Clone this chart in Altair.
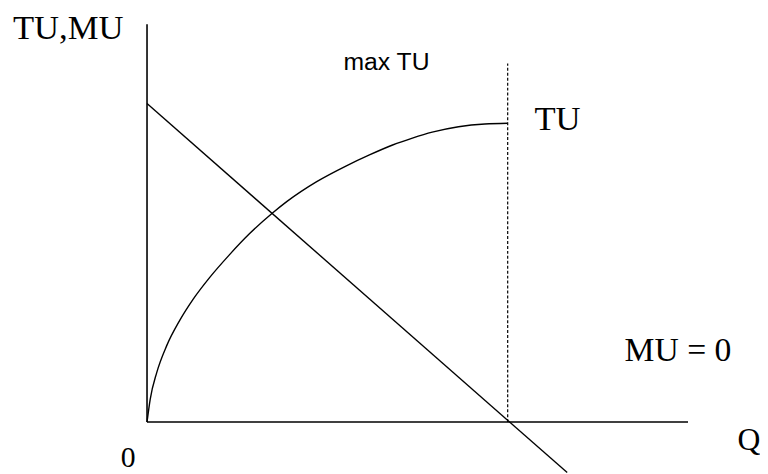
import altair as alt
import pandas as pd

# ---- data (Q units on x, TU/MU units on y) ----
tu_q = [0.0, 0.088, 0.269, 0.543, 0.911, 1.276, 1.734, 2.283, 2.831, 3.471, 3.882,
        4.705, 5.528, 6.167, 6.809, 7.358, 7.907, 8.637, 9.369, 10.0]
tu_u = [0.0, 0.762, 1.656, 2.550, 3.411, 4.106, 4.834, 5.596, 6.291, 6.987, 7.384,
        8.046, 8.576, 8.940, 9.272, 9.503, 9.702, 9.884, 9.977, 10.0]

mu_q = [0.0, 11.65]
mu_u = [10.66, -1.69]

q_max_tu = 10.0
dotted_top = 12.0
y_axis_top = 13.31
x_axis_end = 15.0

label_text = ["TU,MU", "max TU", "TU", "MU = 0", "Q", "0"]
label_q = [-3.717, 5.446, 10.741, 13.24, 16.37, -0.727]
label_u = [12.815, 11.788, 9.768, 2.053, -0.927, -1.50]
label_font = ["Liberation Serif", "Liberation Sans", "Liberation Serif",
              "Liberation Serif", "Liberation Serif", "Liberation Serif"]
label_size = [35, 25, 35, 34, 32, 30]

# ---- layout ----
W, H = 760, 466
x_dom = [(0 - 140.5) / 36.45, (760 - 140.5) / 36.45]
y_dom = [(416 - 466) / 30.2, (416 - 0) / 30.2]

xs = alt.Scale(domain=x_dom, nice=False, zero=False)
ys = alt.Scale(domain=y_dom, nice=False, zero=False)
X = lambda f: alt.X(f, type="quantitative", scale=xs, axis=None)
Y = lambda f: alt.Y(f, type="quantitative", scale=ys, axis=None)

tu_df = pd.DataFrame({"q": tu_q, "u": tu_u})
mu_df = pd.DataFrame({"q": mu_q, "u": mu_u})
axes_df = pd.DataFrame({
    "q": [0.0, 0.0], "u": [0.0, 0.0],
    "q2": [0.0, x_axis_end], "u2": [y_axis_top, 0.0],
})
dot_df = pd.DataFrame({"q": [q_max_tu], "u": [0.0], "u2": [dotted_top]})
lab_df = pd.DataFrame({"t": label_text, "q": label_q, "u": label_u,
                       "f": label_font, "s": label_size})

axes = alt.Chart(axes_df).mark_rule(color="black", strokeWidth=1.6).encode(
    x=X("q"), y=Y("u"), x2="q2", y2="u2")
dotted = alt.Chart(dot_df).mark_rule(color="black", strokeWidth=1.2,
                                     strokeDash=[3, 2]).encode(
    x=X("q"), y=Y("u"), y2="u2")
tu = alt.Chart(tu_df).mark_line(color="black", strokeWidth=1.4,
                                interpolate="monotone").encode(
    x=X("q"), y=Y("u"), order="q:Q")
mu = alt.Chart(mu_df).mark_line(color="black", strokeWidth=1.4).encode(
    x=X("q"), y=Y("u"))

texts = []
for i in range(len(label_text)):
    sub = lab_df.iloc[[i]]
    texts.append(alt.Chart(sub).mark_text(
        align="left", baseline="alphabetic", color="black",
        font=label_font[i], fontSize=label_size[i]).encode(
        x=X("q"), y=Y("u"), text="t:N"))

chart = alt.layer(axes, dotted, tu, mu, *texts).properties(
    width=W, height=H, padding=0, autosize="none",
    background="white"
).configure_view(stroke=None)

chart.save("out.html", embed_options={"renderer": "svg", "actions": False})
